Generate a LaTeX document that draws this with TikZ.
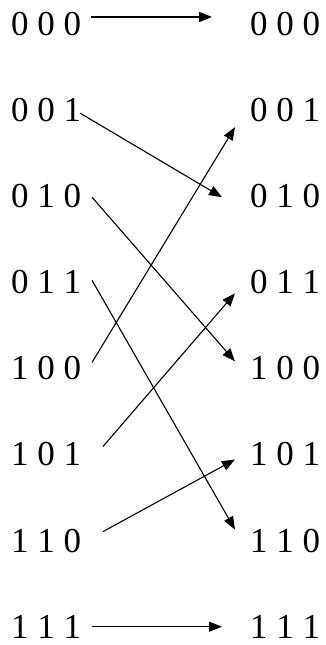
\documentclass[tikz,border=0pt]{standalone}
\usepackage{fontspec}
\setmainfont{Liberation Serif}
\usetikzlibrary{arrows.meta}
\begin{document}
\begin{tikzpicture}[x=1pt,y=-1pt,
  lbl/.style={inner sep=0pt,font=\fontsize{35}{35}\selectfont},
  con/.style={line width=1.1pt,-{Triangle[length=13pt,width=10pt]}}]
\useasboundingbox (0,0) rectangle (325,645);
\foreach \t [count=\i from 0] in {0 0 0,0 0 1,0 1 0,0 1 1,1 0 0,1 0 1,1 1 0,1 1 1}{
  \node[lbl] (L\i) at (46,{24+\i*86.1}) {\t};
  \node[lbl] (R\i) at (285,{24+\i*86.1}) {\t};
}
\draw[con] ([shift={(45,-7)}]L0.center) -- ([shift={(-73,-7)}]R0.center);
\draw[con] ([shift={(34,3)}]L1.center) -- ([shift={(-63,1)}]R2.center);
\draw[con] ([shift={(46,1)}]L2.center) -- ([shift={(-50,-7)}]R4.center);
\draw[con] ([shift={(46,-2)}]L3.center) -- ([shift={(-50,-11)}]R6.center);
\draw[con] ([shift={(46,-6)}]L4.center) -- ([shift={(-50,17)}]R1.center);
\draw[con] ([shift={(57,-8)}]L5.center) -- ([shift={(-50,11)}]R3.center);
\draw[con] ([shift={(57,-9)}]L6.center) -- ([shift={(-50,5)}]R5.center);
\draw[con] ([shift={(46,0)}]L7.center) -- ([shift={(-63,0)}]R7.center);
\end{tikzpicture}
\end{document}
